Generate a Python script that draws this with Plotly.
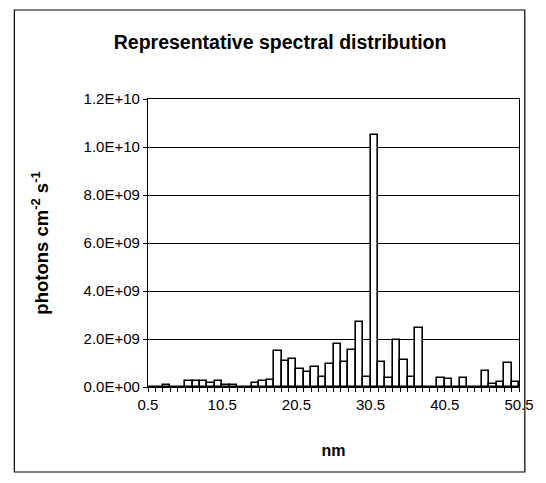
import plotly.graph_objects as go

# bin centres (nm) and photon flux per bin
wavelength_nm = list(range(1, 51))
photons = [
    0, 0, 0.1e9, 0, 0, 0.25e9, 0.25e9, 0.27e9, 0.16e9, 0.27e9,
    0.1e9, 0.1e9, 0, 0, 0.18e9, 0.25e9, 0.31e9, 1.52e9, 1.1e9, 1.18e9,
    0.73e9, 0.62e9, 0.82e9, 0.41e9, 0.97e9, 1.81e9, 1.05e9, 1.53e9, 2.71e9, 0.42e9,
    10.5e9, 1.05e9, 0.36e9, 1.97e9, 1.12e9, 0.41e9, 2.44e9, 0, 0, 0.37e9,
    0.32e9, 0, 0.37e9, 0, 0, 0.66e9, 0.12e9, 0.2e9, 1.01e9, 0.22e9,
]

x_tick_vals = [0.5 + k for k in range(51)]
x_tick_text = [f"{v:.1f}" if k % 10 == 0 else "" for k, v in enumerate(x_tick_vals)]
y_tick_vals = [0, 2e9, 4e9, 6e9, 8e9, 1e10, 1.2e10]
y_tick_text = ["0.0E+00", "2.0E+09", "4.0E+09", "6.0E+09", "8.0E+09", "1.0E+10", "1.2E+10"]

fig = go.Figure(
    go.Bar(
        x=wavelength_nm,
        y=photons,
        width=1,
        marker=dict(color="white", line=dict(color="black", width=1.6)),
    )
)

L, R, T, B = 148, 15, 99, 96
W, H = 546, 483
pw, ph = W - L - R, H - T - B

def px(xp):
    return (xp - L) / pw

def py(yp):
    return (H - B - yp) / ph

fig.add_shape(
    type="rect", xref="paper", yref="paper",
    x0=px(10), x1=px(537), y0=py(472), y1=py(10),
    line=dict(color="black", width=1.2), fillcolor="rgba(0,0,0,0)", layer="below",
)

fig.update_layout(
    width=W, height=H,
    margin=dict(l=L, r=R, t=T, b=B),
    paper_bgcolor="white", plot_bgcolor="white",
    font=dict(family="Liberation Sans, Arial, sans-serif", size=15, color="black"),
    title=dict(
        text="<b>Representative spectral distribution</b>",
        x=0.513, xanchor="center", y=0.913, yanchor="middle",
        font=dict(size=19.5),
    ),
    showlegend=False,
    bargap=0,
)
fig.update_xaxes(
    range=[0.5, 50.5], tickmode="array", tickvals=x_tick_vals, ticktext=x_tick_text,
    ticks="outside", ticklen=4, tickcolor="black", tickwidth=1,
    ticklabeloverflow="allow",
    showline=True, linecolor="black", linewidth=1.2, mirror=True,
    showgrid=False, zeroline=False,
    title=dict(text="<b>nm</b>", font=dict(size=16), standoff=32),
)
fig.update_yaxes(
    range=[0, 1.2e10], tickmode="array", tickvals=y_tick_vals, ticktext=y_tick_text,
    ticks="outside", ticklen=4, tickcolor="black", tickwidth=1,
    showline=True, linecolor="black", linewidth=1.2, mirror=True,
    showgrid=True, gridcolor="black", gridwidth=1, zeroline=False,
    title=dict(text="<b>photons cm<sup>-2</sup> s<sup>-1</sup></b>", font=dict(size=18.5), standoff=30),
)

fig.write_html(
    "out.html",
    config={"displayModeBar": False, "responsive": False},
    post_script="document.body.style.margin='0';document.body.style.overflow='hidden';",
)
